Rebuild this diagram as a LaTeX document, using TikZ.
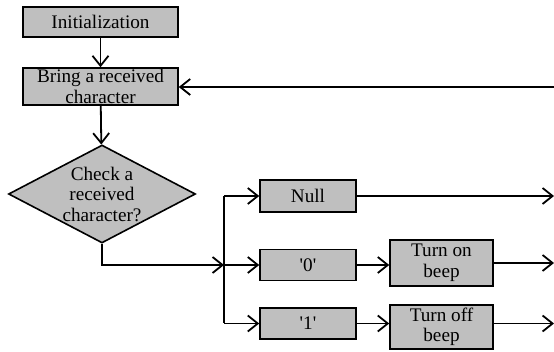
\documentclass[tikz,border=0pt]{standalone}
\usepackage{fontspec}
\setmainfont{Liberation Serif}
\newfontfamily\plainquote{Liberation Serif}
\usetikzlibrary{arrows.meta,shapes.geometric}

\begin{document}
\begin{tikzpicture}[x=1pt, y=-1pt,
		box/.style={draw, line width=1.6pt, fill=black!25, inner sep=0pt, align=center, font=\fontsize{19.2}{20.5}\selectfont},
		check/.style={box, shape=diamond, shape aspect=1.9, minimum width=187pt, minimum height=98pt},
		arr/.style={line width=1.8pt, -{Straight Barb[length=10pt, width=16pt, line width=1.8pt]}},
		link/.style={line width=1.8pt}]
			%%%%% START %%%%%
			\useasboundingbox (0, 0) rectangle (554, 352);
			
			\node[box, minimum width=155pt, minimum height=30pt] (init) at (100.5, 22) {Initialization};
			\node[box, minimum width=155pt, minimum height=37pt] (bring) at (100.5, 86.5) {Bring a received\\character};
			\node[check] (ask) at (102, 194) {Check a\\received\\character?};
			
			\node[box, minimum width=96pt, minimum height=32pt] (null) at (308, 196) {Null};
			\node[box, minimum width=96pt, minimum height=31pt] (zero) at (308, 265) {\plainquote '0'};
			\node[box, minimum width=96pt, minimum height=31pt] (one) at (308, 323.5) {\plainquote '1'};
			\node[box, minimum width=103pt, minimum height=46pt] (beepon) at (441.5, 263) {Turn on\\beep};
			\node[box, minimum width=103pt, minimum height=44pt] (beepoff) at (441.5, 327) {Turn off\\beep};
			
			\coordinate (splittop) at (224, 196);
			\coordinate (splitmid) at (224, 265);
			\coordinate (splitbot) at (224, 323.5);
			\coordinate (back) at (554, 87);
			
			\draw[arr] (init) -- (bring);
			\draw[arr] (bring) -- (ask);
			\draw[arr] (back) -- (back -| bring.east);
			\draw[arr] (ask.south) |- (splitmid);
			\draw[link] (splittop) -- (splitbot);
			
			\draw[arr] (splittop) -- (null);
			\draw[arr] (splitmid) -- (zero);
			\draw[arr] (splitbot) -- (one);
			\draw[arr] (zero.east) -- (zero.east -| beepon.west);
			\draw[arr] (one.east) -- (one.east -| beepoff.west);
			
			\draw[arr] (null.east) -- (554, 196);
			\draw[arr] (beepon.east) -- (554, 263);
			\draw[arr] (beepoff.east |- one.east) -- (554, 323.5);
			%%%%% END %%%%%
\end{tikzpicture}
\end{document}
